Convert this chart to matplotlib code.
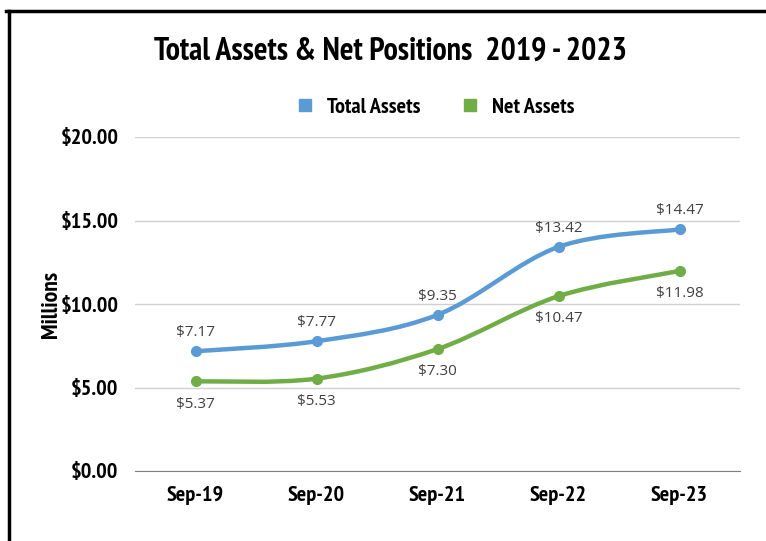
import numpy as np
import matplotlib.pyplot as plt
from matplotlib.path import Path
from matplotlib.patches import PathPatch
from matplotlib.lines import Line2D

periods = ['Sep-19', 'Sep-20', 'Sep-21', 'Sep-22', 'Sep-23']
total_assets = [7.17, 7.77, 9.35, 13.42, 14.47]
net_assets = [5.37, 5.53, 7.30, 10.47, 11.98]
yticks = [0, 5, 10, 15, 20]

blue = '#5B9BD5'
green = '#70AD47'
cond = ['PT Sans Narrow', 'DejaVu Sans']
label_font = ['Open Sans', 'DejaVu Sans']


def smooth_path(xs, ys, tension=1 / 6):
    # Excel-style smoothed line: cubic bezier segments through each point
    pts = np.column_stack([xs, ys])
    n = len(pts)
    verts = [pts[0]]
    codes = [Path.MOVETO]
    for i in range(n - 1):
        p0 = pts[i - 1] if i > 0 else pts[i]
        p1 = pts[i]
        p2 = pts[i + 1]
        p3 = pts[i + 2] if i + 2 < n else pts[i + 1]
        c1 = p1 + (p2 - p0) * tension
        c2 = p2 - (p3 - p1) * tension
        verts += [c1, c2, p2]
        codes += [Path.CURVE4] * 3
    return Path(verts, codes)


fig = plt.figure(figsize=(7.66, 5.41), dpi=100)
ax = fig.add_axes([135 / 766, 1 - 471 / 541, 605 / 766, 334 / 541])

x = np.arange(len(periods))
for vals, col in [(total_assets, blue), (net_assets, green)]:
    patch = PathPatch(smooth_path(x, vals), facecolor='none', edgecolor=col,
                      lw=3.2, capstyle='round', zorder=3)
    ax.add_patch(patch)
    ax.plot(x, vals, 'o', color=col, ms=7, zorder=4)

for i, v in enumerate(total_assets):
    ax.annotate(f'${v:.2f}', (i, v), xytext=(0, 8), textcoords='offset points',
                ha='center', va='bottom', fontsize=11, color='#404040',
                family=label_font)
for i, v in enumerate(net_assets):
    ax.annotate(f'${v:.2f}', (i, v), xytext=(0, -11), textcoords='offset points',
                ha='center', va='top', fontsize=11, color='#404040',
                family=label_font)

ax.set_xlim(-0.5, len(periods) - 0.5)
ax.set_ylim(0, 20)
ax.set_yticks(yticks)
ax.set_yticklabels([f'${t:.2f}' for t in yticks], fontsize=16,
                   fontweight='bold', family=cond)
ax.set_xticks(x)
ax.set_xticklabels(periods, fontsize=16, fontweight='bold', family=cond)
ax.tick_params(length=0)
ax.tick_params(axis='y', pad=12)
ax.tick_params(axis='x', pad=11)
ax.grid(axis='y', color='#D0D0D0', lw=1)
ax.set_axisbelow(True)
for s in ['top', 'right', 'left']:
    ax.spines[s].set_visible(False)
ax.spines['bottom'].set_color('#808080')
ax.set_ylabel('Millions', fontsize=17, fontweight='bold', family=cond, labelpad=-1)

fig.text(390 / 766, 1 - 52 / 541, 'Total Assets & Net Positions  2019 - 2023',
         ha='center', va='center', fontsize=23, fontweight='bold', family=cond)

handles = [Line2D([], [], ls='none', marker='s', ms=9, color=blue),
           Line2D([], [], ls='none', marker='s', ms=9, color=green)]
fig.legend(handles, ['Total Assets', 'Net Assets'], loc='center',
           bbox_to_anchor=(434 / 766, 1 - 107 / 541), ncol=2, frameon=False,
           prop={'family': cond, 'weight': 'bold', 'size': 16},
           handletextpad=0.5, columnspacing=1.7, handlelength=1)

# black frame on the top and left edges
fig.add_artist(Line2D([6 / 766, 1], [1 - 11 / 541, 1 - 11 / 541], color='black',
                      lw=2.5, transform=fig.transFigure))
fig.add_artist(Line2D([8.5 / 766, 8.5 / 766], [0, 1 - 11 / 541], color='black',
                      lw=2.5, transform=fig.transFigure))

fig.savefig('out.png', dpi=100)
